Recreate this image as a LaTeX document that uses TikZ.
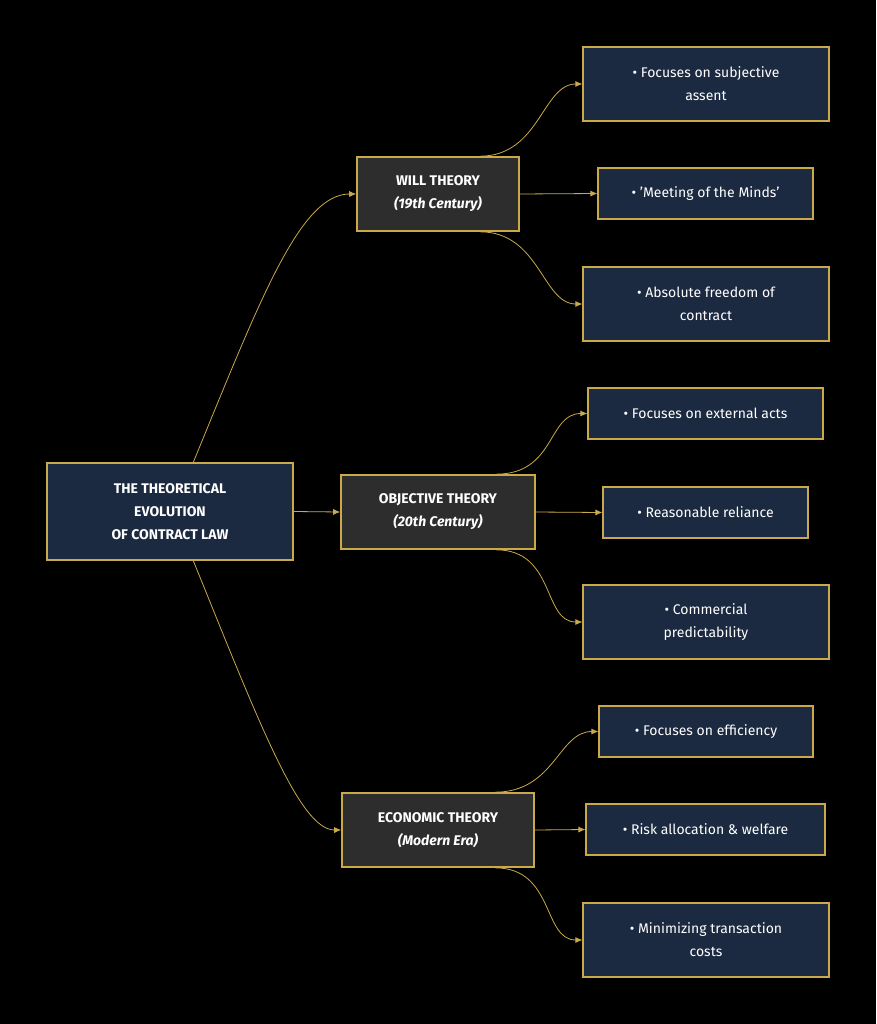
\documentclass[tikz,border=0pt]{standalone}
\usepackage{fontspec}
\setmainfont{Fira Sans}
\usetikzlibrary{arrows.meta}
\definecolor{gold}{HTML}{C9A94A}
\definecolor{navy}{HTML}{1B2A40}
\definecolor{dgray}{HTML}{2D2D2D}
\begin{document}
\begin{tikzpicture}[x=1pt,y=-1pt,
 box/.style={draw=gold,line width=1.2pt,text=white,align=center,font=\fontsize{14}{23}\selectfont,inner sep=0pt},
 leaf/.style={box,fill=navy},
 mid/.style={box,fill=dgray,line width=1.6pt,font=\fontsize{14}{23}\selectfont\bfseries},
 edge/.style={draw=gold,line width=0.8pt,-{Latex[length=7pt,width=6pt]}}]
\fill[black] (0,0) rectangle (876,1024);
\useasboundingbox (0,0) rectangle (876,1024);
\newcommand\bx[6]{\node[#1,minimum width=#4-#2,minimum height=#5-#3] (#6) at ({(#2+#4)/2},{(#3+#5)/2})}
\bx{leaf,line width=2pt,font=\fontsize{14}{23}\selectfont\bfseries}{47}{463}{293}{560}{root}{THE THEORETICAL\\EVOLUTION\\OF CONTRACT LAW};
\bx{mid}{357}{157}{519}{231}{will}{WILL THEORY\\\textit{(19th Century)}};
\bx{mid}{341}{475}{535}{549}{obj}{OBJECTIVE THEORY\\\textit{(20th Century)}};
\bx{mid}{342}{793}{534}{867}{eco}{ECONOMIC THEORY\\\textit{(Modern Era)}};
\bx{leaf}{583}{47}{829}{121}{l1}{• Focuses on subjective\\assent};
\bx{leaf}{598}{168}{813}{219}{l2}{• 'Meeting of the Minds'};
\bx{leaf}{583}{267}{829}{341}{l3}{• Absolute freedom of\\contract};
\bx{leaf}{588}{388}{823}{439}{l4}{• Focuses on external acts};
\bx{leaf}{603}{487}{808}{538}{l5}{• Reasonable reliance};
\bx{leaf}{583}{585}{829}{659}{l6}{• Commercial\\predictability};
\bx{leaf}{599}{706}{813}{757}{l7}{• Focuses on efficiency};
\bx{leaf}{586}{804}{825}{855}{l8}{• Risk allocation \& welfare};
\bx{leaf}{583}{903}{829}{977}{l9}{• Minimizing transaction\\costs};
\draw[edge] (193,463) .. controls (260,300) and (300,194) .. (will.west);
\draw[edge] (root.east) -- (obj.west);
\draw[edge] (193,560) .. controls (260,725) and (300,830) .. (eco.west);
\foreach \m/\a/\b/\c/\y in {will/l1/l2/l3/194, obj/l4/l5/l6/512, eco/l7/l8/l9/830}{
 \draw[edge] ([xshift=-40]\m.north east) .. controls ([xshift=20]\m.north east) and ([xshift=-40]\a.west) .. (\a.west);
 \draw[edge] (\m.east) -- (\b.west);
 \draw[edge] ([xshift=-40]\m.south east) .. controls ([xshift=20]\m.south east) and ([xshift=-40]\c.west) .. (\c.west);
}
\end{tikzpicture}
\end{document}
